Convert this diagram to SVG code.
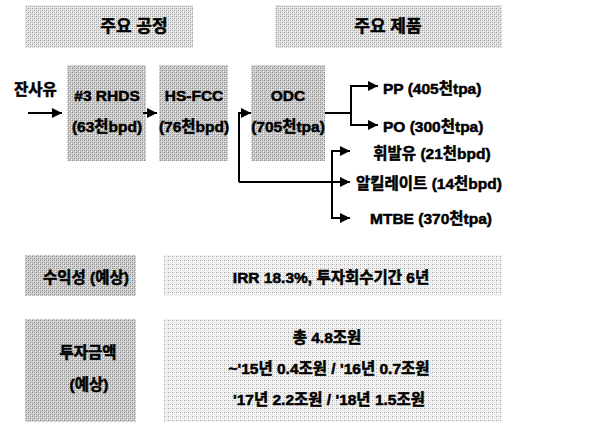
<svg xmlns="http://www.w3.org/2000/svg" width="616" height="422" viewBox="0 0 616 422">
<defs>
<pattern id="patHead" width="4" height="4" patternUnits="userSpaceOnUse">
<rect width="4" height="4" fill="#e2e2e2"/>
<rect x="0" y="0" width="1" height="1" fill="#9a9a9a"/>
<rect x="2" y="2" width="1" height="1" fill="#9a9a9a"/>
<rect x="2" y="0" width="1" height="1" fill="#bdbdbd"/>
<rect x="0" y="2" width="1" height="1" fill="#bdbdbd"/>
<rect x="1" y="1" width="1" height="1" fill="#f6f6f6"/>
<rect x="3" y="3" width="1" height="1" fill="#f6f6f6"/>
</pattern>
<pattern id="patDark" width="4" height="4" patternUnits="userSpaceOnUse">
<rect width="4" height="4" fill="#cfcfcf"/>
<rect x="0" y="0" width="1" height="1" fill="#8c8c8c"/>
<rect x="2" y="2" width="1" height="1" fill="#8c8c8c"/>
<rect x="2" y="0" width="1" height="1" fill="#a8a8a8"/>
<rect x="0" y="2" width="1" height="1" fill="#a8a8a8"/>
<rect x="1" y="1" width="1" height="1" fill="#ececec"/>
<rect x="3" y="3" width="1" height="1" fill="#ececec"/>
<rect x="1" y="3" width="1" height="1" fill="#b8b8b8"/>
</pattern>
<pattern id="patLight" width="4" height="4" patternUnits="userSpaceOnUse">
<rect width="4" height="4" fill="#f2f2f2"/>
<rect x="0" y="0" width="1" height="1" fill="#a0a0a0"/>
<rect x="2" y="0" width="1" height="1" fill="#d6d6d6"/>
<rect x="0" y="2" width="1" height="1" fill="#d6d6d6"/>
<rect x="2" y="2" width="1" height="1" fill="#e4e4e4"/>
</pattern>
<marker id="arr" viewBox="0 0 10 10" refX="10" refY="5" markerWidth="10" markerHeight="10" markerUnits="userSpaceOnUse" orient="auto">
<path d="M0,0 L10,5 L0,10 Z" fill="#000"/>
</marker>
<style>
text{font-family:"Liberation Sans","Noto Sans CJK KR",sans-serif;font-weight:bold;fill:#000;stroke:#000;stroke-width:0.5;}
.t{font-size:15.5px;}
.h{font-size:17px;}
.c{text-anchor:middle;}
.ln{fill:none;stroke:#000;stroke-width:2;}
</style>
</defs>
<rect width="616" height="422" fill="#fff"/>

<g id="header-process">
<rect x="25" y="5" width="168" height="43" fill="url(#patHead)"/>
<text class="h c" x="134" y="32">주요 공정</text>
</g>
<g id="header-products">
<rect x="275" y="5" width="227" height="43" fill="url(#patHead)"/>
<text class="h c" x="388" y="32">주요 제품</text>
</g>

<g id="feed">
<text class="t" x="14" y="95">잔사유</text>
</g>

<g id="rhds">
<rect x="67" y="65" width="79" height="96" fill="url(#patDark)"/>
<text class="t c" x="107" y="101">#3 RHDS</text>
<text class="t c" x="107" y="132">(63천bpd)</text>
</g>
<g id="hsfcc">
<rect x="159" y="65" width="69" height="96" fill="url(#patDark)"/>
<text class="t c" x="194" y="101">HS-FCC</text>
<text class="t c" x="194" y="132">(76천bpd)</text>
</g>
<g id="odc">
<rect x="251" y="65" width="74" height="96" fill="url(#patDark)"/>
<text class="t c" x="288" y="101">ODC</text>
<text class="t c" x="288" y="132">(705천tpa)</text>
</g>

<g id="pp"><text class="t" x="383" y="94">PP (405천tpa)</text></g>
<g id="po"><text class="t" x="383" y="132">PO (300천tpa)</text></g>
<g id="gasoline"><text class="t c" x="432" y="159">휘발유 (21천bpd)</text></g>
<g id="alkylate"><text class="t c" x="429" y="189">알킬레이트 (14천bpd)</text></g>
<g id="mtbe"><text class="t c" x="431" y="224">MTBE (370천tpa)</text></g>

<g id="connectors">
<path class="ln" d="M28,113 H62" marker-end="url(#arr)"/>
<path class="ln" d="M143,113 H157" marker-end="url(#arr)"/>
<path class="ln" d="M239,182 V113 H251" marker-end="url(#arr)"/>
<path class="ln" d="M239,182 H350" marker-end="url(#arr)"/>
<path class="ln" d="M332,151 V218"/>
<path class="ln" d="M331,151 H350" marker-end="url(#arr)"/>
<path class="ln" d="M331,218 H350" marker-end="url(#arr)"/>
<path class="ln" d="M325,113 H351"/>
<path class="ln" d="M351,86 V125"/>
<path class="ln" d="M350,86 H378" marker-end="url(#arr)"/>
<path class="ln" d="M350,125 H378" marker-end="url(#arr)"/>
</g>

<g id="profit-label">
<rect x="25" y="255" width="111" height="41" fill="url(#patDark)"/>
<text class="t c" x="86" y="283">수익성 (예상)</text>
</g>
<g id="profit-value">
<rect x="164" y="255" width="338" height="41" fill="url(#patLight)"/>
<text class="t c" x="331" y="283">IRR 18.3%, 투자회수기간 6년</text>
</g>
<g id="invest-label">
<rect x="25" y="319" width="111" height="103" fill="url(#patDark)"/>
<text class="t c" x="88" y="358">투자금액</text>
<text class="t c" x="89" y="390">(예상)</text>
</g>
<g id="invest-value">
<rect x="164" y="319" width="338" height="103" fill="url(#patLight)"/>
<text class="t c" x="327" y="343">총 4.8조원</text>
<text class="t c" x="329" y="374">~'15년 0.4조원 / '16년 0.7조원</text>
<text class="t c" x="329" y="405">'17년 2.2조원 / '18년 1.5조원</text>
</g>
</svg>
